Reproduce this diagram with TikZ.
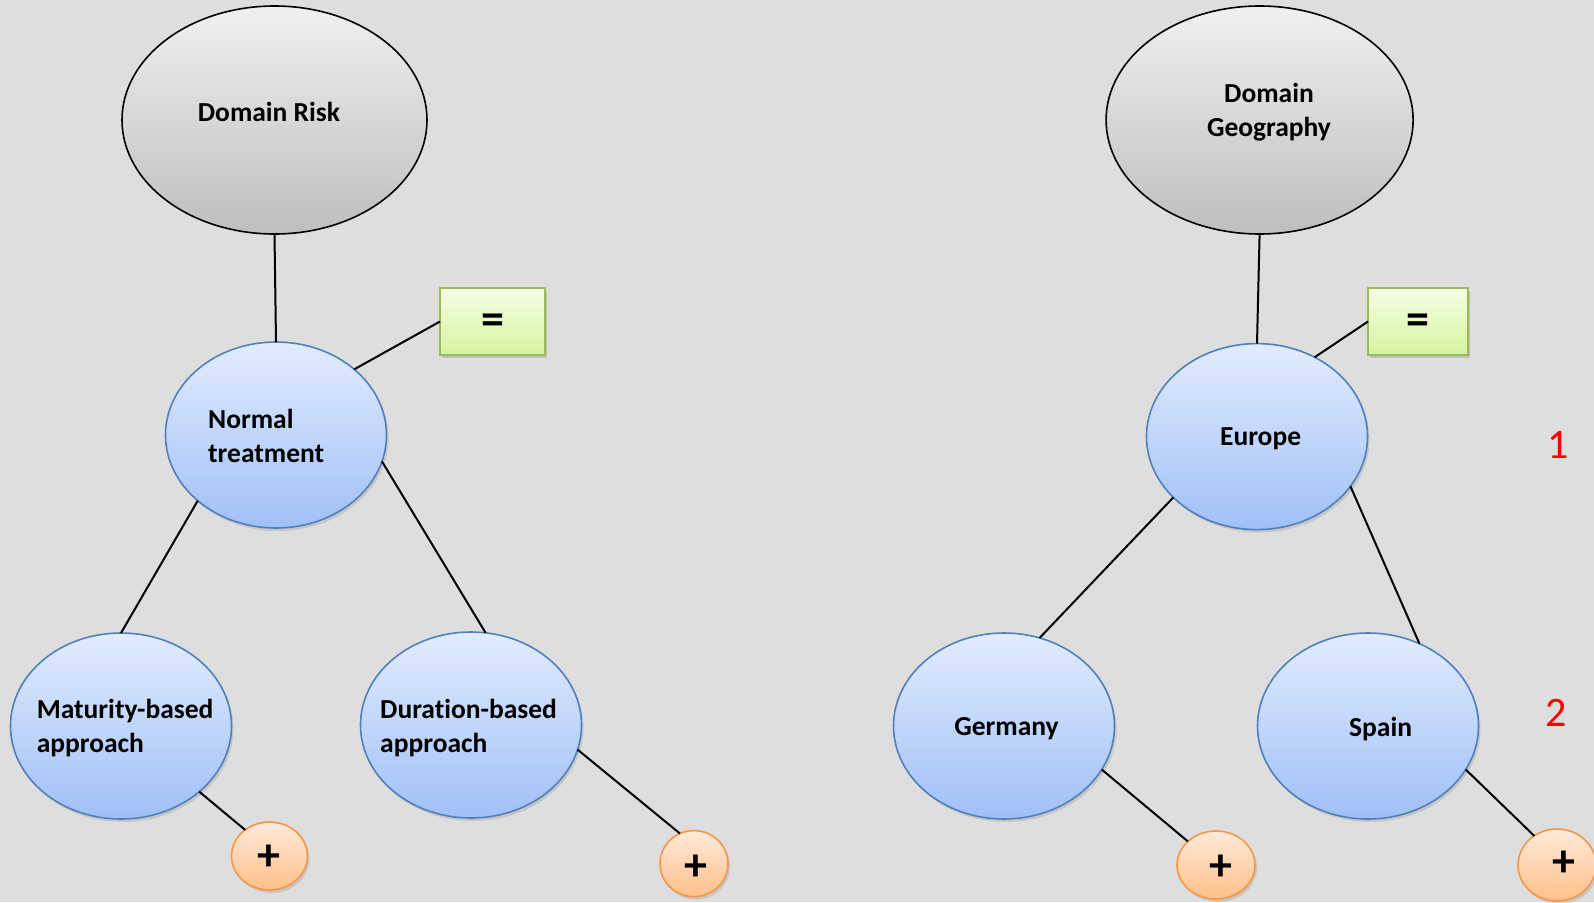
\documentclass[tikz,border=0pt]{standalone}
\usepackage{fontspec}
\setmainfont{Carlito}[Ligatures=NoCommon]
\usetikzlibrary{shapes.geometric,shadows}
\definecolor{bg}{RGB}{222,222,222}
\definecolor{domtop}{RGB}{240,240,240}
\definecolor{dombot}{RGB}{190,190,190}
\definecolor{bluetop}{RGB}{226,236,255}
\definecolor{bluebot}{RGB}{160,192,246}
\definecolor{blueline}{RGB}{80,128,190}
\definecolor{greentop}{RGB}{244,255,228}
\definecolor{greenbot}{RGB}{212,244,160}
\definecolor{greenline}{RGB}{155,187,89}
\definecolor{orangetop}{RGB}{255,234,218}
\definecolor{orangebot}{RGB}{255,192,138}
\definecolor{orangeline}{RGB}{247,150,70}
\tikzset{
  domainnode/.style={ellipse, draw=black, line width=1.6pt, top color=domtop, bottom color=dombot,
    inner sep=0pt, outer sep=0pt, minimum width=305pt, minimum height=228pt},
  member/.style={ellipse, draw=blueline, line width=1.6pt, top color=bluetop, bottom color=bluebot,
    inner sep=0pt, outer sep=0pt, minimum width=221pt, minimum height=186pt,
    drop shadow={shadow xshift=2pt, shadow yshift=-3pt, opacity=0.25}},
  eqbox/.style={rectangle, draw=greenline, line width=1.6pt, top color=greentop, bottom color=greenbot,
    inner sep=0pt, outer sep=0pt, minimum height=67pt,
    drop shadow={shadow xshift=2pt, shadow yshift=-3pt, opacity=0.3}},
  plusdot/.style={ellipse, draw=orangeline, line width=1.6pt, top color=orangetop, bottom color=orangebot,
    inner sep=0pt, outer sep=0pt, minimum width=76pt, minimum height=68pt,
    drop shadow={shadow xshift=2pt, shadow yshift=-3pt, opacity=0.25}},
  txt/.style={font=\fontsize{27.5}{34}\selectfont\bfseries, inner sep=0pt, text=black},
  sym/.style={font=\fontsize{46}{46}\selectfont\bfseries, inner sep=0pt, text=black},
  num/.style={font=\fontsize{42}{42}\selectfont, inner sep=0pt, text=red},
  link/.style={draw=black, line width=2pt},
}
\begin{document}
\begin{tikzpicture}[x=1pt, y=-1pt]
  % canvas
  \fill[bg] (0,0) rectangle (1594,902);
  \useasboundingbox (0,0) rectangle (1594,902);

  % ---- left tree: risk domain ----
  \node[domainnode] (risk) at (274.5,120) {};
  \node[txt] (riskT) at (269,112) {Domain Risk};
  \node[member] (normal) at (276,435) {};
  \node[txt, align=left, anchor=west] (normalT) at (208,435.5) {Normal\\treatment};
  \node[eqbox, minimum width=105pt] (eqL) at (492.5,321.5) {};
  \node[sym] (eqLT) at (493,324) {=};
  \node[member] (mat) at (121,726) {};
  \node[txt, align=left, anchor=west] (matT) at (36.6,728.5) {Maturity-based\\approach};
  \node[member] (dur) at (471,725) {};
  \node[txt, align=left, anchor=west] (durT) at (380,728.5) {Duration-based\\approach};
  \node[plusdot] (pMat) at (269.5,856) {};
  \node[sym] (pMatT) at (269,858) {+};
  \node[plusdot, minimum width=68pt, minimum height=66pt] (pDur) at (694,863.6) {};
  \node[sym] (pDurT) at (696,868) {+};

  % ---- right tree: geography domain ----
  \node[domainnode, minimum width=307pt] (geo) at (1259.6,120) {};
  \node[txt, align=center] (geoT) at (1269,112) {Domain\\Geography};
  \node[member] (eur) at (1257,436.6) {};
  \node[txt] (eurT) at (1260.6,439) {Europe};
  \node[eqbox, minimum width=100pt] (eqR) at (1418,321.5) {};
  \node[sym] (eqRT) at (1418,324) {=};
  \node[member] (ger) at (1004,726) {};
  \node[txt] (gerT) at (1006.5,729) {Germany};
  \node[member] (spa) at (1368,726) {};
  \node[txt] (spaT) at (1380.6,729) {Spain};
  \node[plusdot, minimum width=78pt] (pGer) at (1216,865) {};
  \node[sym] (pGerT) at (1221,868) {+};
  \node[plusdot, minimum width=78pt, minimum height=72pt] (pSpa) at (1557,865) {};
  \node[sym] (pSpaT) at (1563.5,864) {+};

  % level numbers
  \node[num] (lvl1) at (1558.5,445) {1};
  \node[num] (lvl2) at (1556,713) {2};

  % ---- connectors ----
  \draw[link] (risk.270) -- (normal.90);
  \draw[link] (normal.40) -- (eqL.west);
  \draw[link] (normal.220) -- (mat.90);
  \draw[link] (normal.-14) -- (dur.81);
  \draw[link] (mat.-40) -- (pMat.133);
  \draw[link] (dur.-13.5) -- (pDur.115);

  \draw[link] (geo.270) -- (eur.90);
  \draw[link] (eur.54) -- (eqR.west);
  \draw[link] (eur.216) -- (ger.68);
  \draw[link] (eur.-28) -- (spa.58);
  \draw[link] (ger.-24) -- (pGer.140);
  \draw[link] (spa.-24) -- (pSpa.128);
\end{tikzpicture}
\end{document}
